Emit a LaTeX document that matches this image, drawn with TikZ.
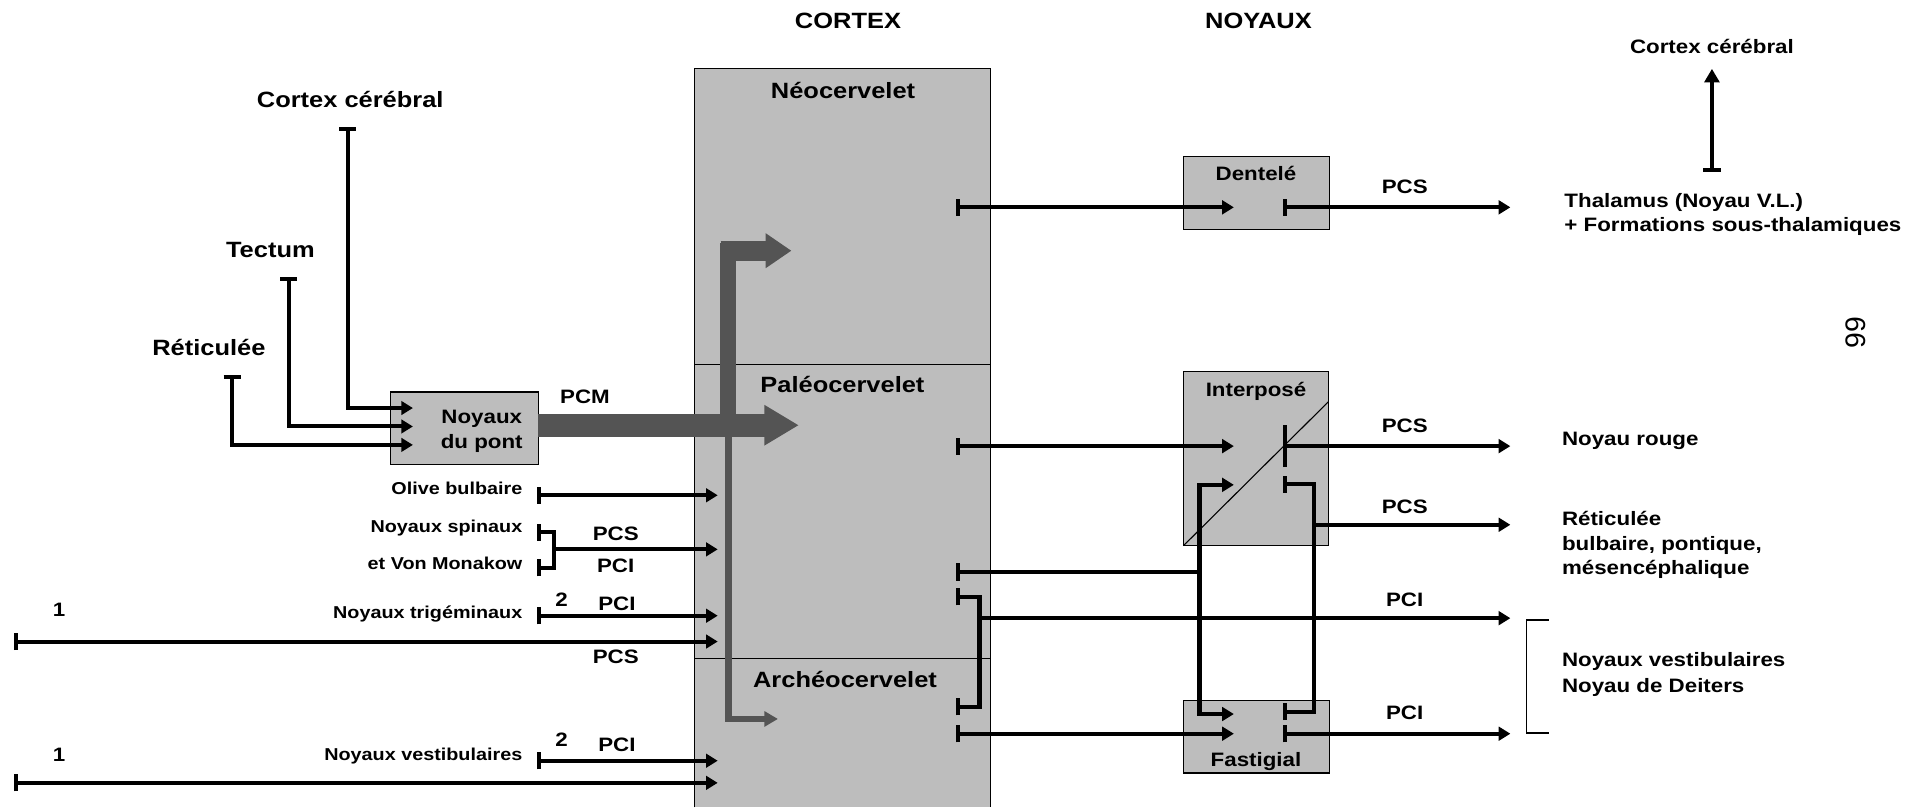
\documentclass[tikz,border=0pt]{standalone}
\usepackage{fontspec}
\setmainfont{Liberation Sans}[FakeStretch=1.15]
\newfontfamily\plainfam{Liberation Sans}
\usetikzlibrary{arrows.meta}
\definecolor{boxgray}{gray}{0.74}
\definecolor{pcmgray}{gray}{0.33}
\newcommand{\fbig}{\bfseries\fontsize{18}{21}\selectfont}
\newcommand{\fmed}{\bfseries\fontsize{15.8}{19}\selectfont}
\newcommand{\fsml}{\bfseries\fontsize{14}{17}\selectfont}
\tikzset{
  lbl/.style={inner sep=0pt, outer sep=0pt},
  wire/.style={line width=3.3pt, -{Triangle[length=9.5pt,width=11pt]}},
  teewire/.style={line width=3.3pt, {Bar[width=14pt]}-{Triangle[length=9.5pt,width=11pt]}},
  teetee/.style={line width=3.3pt, {Bar[width=14pt]}-{Bar[width=14pt]}},
  plainwire/.style={line width=3.3pt},
  nbox/.style={draw, line width=0.9pt, fill=boxgray, inner sep=0pt, outer sep=0pt, anchor=north west},
  thin/.style={line width=1.3pt},
}
\begin{document}
\begin{tikzpicture}[x=1pt,y=-1pt]
\useasboundingbox (0,0) rectangle (1568,657);

% ---- cortex column ----
\fill[boxgray] (565,56) rectangle (806,657);
\draw[line width=0.9pt] (565,657) -- (565,56) -- (806,56) -- (806,657);
\draw[line width=0.9pt] (565,296.5) -- (806,296.5);
\draw[line width=0.9pt] (565,535.6) -- (806,535.6);

% ---- boxes ----
\node[nbox, minimum width=120pt, minimum height=59pt] (pont) at (318,319) {};
\node[nbox, minimum width=119pt, minimum height=59.6pt] (dentele) at (963,127) {};
\node[nbox, minimum width=118pt, minimum height=141.6pt] (interpose) at (963,302.4) {};
\node[nbox, minimum width=119pt, minimum height=59pt] (fastigial) at (963,570) {};
\coordinate (diagEnd) at (1081,326.8);
\draw[line width=0.9pt] (interpose.south west) -- (diagEnd);

% ---- headers & labels ----
\node[lbl, font=\fbig, anchor=base] (hcortex) at (690,23.4) {CORTEX};
\node[lbl, font=\fbig, anchor=base] (hnoyaux) at (1024,23.4) {NOYAUX};
\node[lbl, font=\fbig, anchor=base] (lneo) at (686,80.2) {Néocervelet};
\node[lbl, font=\fbig, anchor=base] (lpaleo) at (685.5,319.4) {Paléocervelet};
\node[lbl, font=\fbig, anchor=base] (larch) at (687.6,559.4) {Archéocervelet};

\node[lbl, font=\fbig, anchor=base] (lcc) at (285,87.4) {Cortex cérébral};
\node[lbl, font=\fbig, anchor=base] (ltec) at (220,209.4) {Tectum};
\node[lbl, font=\fbig, anchor=base] (lret) at (170,289.4) {Réticulée};

\node[lbl, font=\fmed, anchor=base] (lpont1) at (392,344.7) {Noyaux};
\node[lbl, font=\fmed, anchor=base] (lpont2) at (392,365.3) {du pont};
\node[lbl, font=\fmed, anchor=base] (lpcm) at (476,328.7) {PCM};

\node[lbl, font=\fsml, anchor=base east] (lolive) at (425,402) {Olive bulbaire};
\node[lbl, font=\fsml, anchor=base east] (lspin) at (425,433.5) {Noyaux spinaux};
\node[lbl, font=\fsml, anchor=base east] (lvm) at (425,463) {et Von Monakow};
\node[lbl, font=\fsml, anchor=base east] (ltrig) at (425,503) {Noyaux trigéminaux};
\node[lbl, font=\fsml, anchor=base east] (lvest) at (425,619) {Noyaux vestibulaires};

\node[lbl, font=\fmed, anchor=base] (one1) at (48,501.7) {1};
\node[lbl, font=\fmed, anchor=base] (one2) at (48,619.7) {1};
\node[lbl, font=\fmed, anchor=base] (two1) at (457,493.7) {2};
\node[lbl, font=\fmed, anchor=base] (two2) at (457,607.7) {2};
\node[lbl, font=\fmed, anchor=base] (lpcsA) at (501,440.2) {PCS};
\node[lbl, font=\fmed, anchor=base] (lpciA) at (501,466.2) {PCI};
\node[lbl, font=\fmed, anchor=base] (lpciB) at (502,496.7) {PCI};
\node[lbl, font=\fmed, anchor=base] (lpcsB) at (501,540.2) {PCS};
\node[lbl, font=\fmed, anchor=base] (lpciC) at (502,611.7) {PCI};

\node[lbl, font=\fmed, anchor=base] (ldent) at (1022,146.7) {Dentelé};
\node[lbl, font=\fmed, anchor=base] (linter) at (1022,322.4) {Interposé};
\node[lbl, font=\fmed, anchor=base] (lfast) at (1022,623.7) {Fastigial};

\node[lbl, font=\fmed, anchor=base] (rpcs1) at (1143,157.7) {PCS};
\node[lbl, font=\fmed, anchor=base] (rpcs2) at (1143,351.7) {PCS};
\node[lbl, font=\fmed, anchor=base] (rpcs3) at (1143,417.7) {PCS};
\node[lbl, font=\fmed, anchor=base] (rpci1) at (1143,493.7) {PCI};
\node[lbl, font=\fmed, anchor=base] (rpci2) at (1143,585.7) {PCI};

\node[lbl, font=\fmed, anchor=base] (rcc) at (1393,43.7) {Cortex cérébral};
\node[lbl, font=\fmed, anchor=base west] (rthal1) at (1273,168.7) {Thalamus (Noyau V.L.)};
\node[lbl, font=\fmed, anchor=base west] (rthal2) at (1273,188.7) {+ Formations sous-thalamiques};
\node[lbl, font=\fmed, anchor=base west] (rrouge) at (1271,362.7) {Noyau rouge};
\node[lbl, font=\fmed, anchor=base west] (rret1) at (1271,427.3) {Réticulée};
\node[lbl, font=\fmed, anchor=base west] (rret2) at (1271,447.7) {bulbaire, pontique,};
\node[lbl, font=\fmed, anchor=base west] (rret3) at (1271,467.7) {mésencéphalique};
\node[lbl, font=\fmed, anchor=base west] (rvest1) at (1271,542.7) {Noyaux vestibulaires};
\node[lbl, font=\fmed, anchor=base west] (rvest2) at (1271,563.2) {Noyau de Deiters};

\node[lbl, rotate=90, font=\plainfam\fontsize{23}{26}\selectfont] (pagenum) at (1510,270.5) {99};

% ---- gray mossy-fibre arrows ----
\coordinate (pcmTip) at (650,346);
\coordinate (branch) at (592.5,346);
\coordinate (upCorner) at (592.5,198);
\coordinate (upStart) at (586.3,204);
\coordinate (upTip) at (644,204);
\coordinate (lowTip) at (633,585);
\draw[pcmgray, line width=12.5pt] (branch) -- (upCorner);
\draw[pcmgray, line width=16pt, -{Triangle[length=21pt,width=27pt]}] (upStart) -- (upTip);
\draw[pcmgray, line width=5.5pt, -{Triangle[length=11pt,width=12pt]}] (branch) |- (lowTip);
\draw[pcmgray, line width=19pt, -{Triangle[length=28pt,width=31pt]}] (pont.east |- pcmTip) -- (pcmTip);

% ---- inputs to the pontine nuclei ----
\coordinate (tcc) at (283,103);
\coordinate (ttec) at (235,225);
\coordinate (tret) at (189,305);
\coordinate (acc) at (336,332);
\coordinate (atec) at (336,347);
\coordinate (aret) at (336,362);
\draw[teewire] (tcc) |- (acc);
\draw[teewire] (ttec) |- (atec);
\draw[teewire] (tret) |- (aret);

% ---- inputs to the cortex ----
\coordinate (olive) at (437,403);   \coordinate (oliveTip) at (584,403);
\draw[teewire] (olive) -- (oliveTip);
\coordinate (spA) at (437,433); \coordinate (spB) at (437,462);
\coordinate (spJ) at (451,447); \coordinate (spTip) at (584,447);
\draw[teetee] (spA) -| (spJ) |- (spB);
\draw[wire] (spJ) -- (spTip);
\coordinate (trig) at (437,501);  \coordinate (trigTip) at (584,501);
\draw[teewire] (trig) -- (trigTip);
\coordinate (longA) at (11,522);  \coordinate (longATip) at (584,522);
\draw[teewire] (longA) -- (longATip);
\coordinate (vest) at (437,619);  \coordinate (vestTip) at (584,619);
\draw[teewire] (vest) -- (vestTip);
\coordinate (longB) at (11,637);  \coordinate (longBTip) at (584,637);
\draw[teewire] (longB) -- (longBTip);

% ---- cortex to nuclei ----
\coordinate (neoT) at (778,168.7);   \coordinate (dentIn) at (1004,168.7);
\draw[teewire] (neoT) -- (dentIn);
\coordinate (dentT) at (1044,168.7); \coordinate (thalTip) at (1229,168.7);
\draw[teewire] (dentT) -- (thalTip);

\coordinate (paleoT1) at (778,363);  \coordinate (interIn1) at (1004,363);
\draw[teewire] (paleoT1) -- (interIn1);
\coordinate (interT1) at (1044,363); \coordinate (rougeTip) at (1229,363);
\draw[line width=3.3pt, {Bar[width=34pt]}-{Triangle[length=9.5pt,width=11pt]}] (interT1) -- (rougeTip);

\coordinate (paleoT2) at (778,465.5); \coordinate (busL) at (976,465.5);
\coordinate (interIn2) at (1004,394.5); \coordinate (fastIn1) at (1004,581);
\draw[line width=3.3pt, {Bar[width=14pt]}-] (paleoT2) -- (busL);
\draw[wire] (busL) |- (interIn2);
\draw[wire] (busL) |- (fastIn1);

\coordinate (paleoT3) at (778,485.6); \coordinate (archT1) at (778,575);
\coordinate (brJ) at (797,503); \coordinate (pciTip1) at (1229,503);
\draw[teetee] (paleoT3) -| (brJ) |- (archT1);
\draw[wire] (brJ) -- (pciTip1);

\coordinate (archT2) at (778,597); \coordinate (fastIn2) at (1004,597);
\draw[teewire] (archT2) -- (fastIn2);

\coordinate (interT2) at (1044,394); \coordinate (fastT1) at (1044,579);
\coordinate (busR) at (1069,427); \coordinate (retTip) at (1229,427);
\draw[teetee] (interT2) -| (busR) |- (fastT1);
\draw[wire] (busR) -- (retTip);

\coordinate (fastT2) at (1044,597); \coordinate (pciTip2) at (1229,597);
\draw[teewire] (fastT2) -- (pciTip2);

% ---- thalamus to cerebral cortex ----
\coordinate (thalT) at (1393,140); \coordinate (ccTip) at (1393,56);
\draw[line width=3.3pt, {Bar[width=14pt]}-{Triangle[length=11pt,width=12pt]}] (thalT) -- (ccTip);

% ---- bracket ----
\draw[thin] (1260,504.6) -- (1242,504.6) -- (1242,596.6) -- (1260,596.6);
\end{tikzpicture}
\end{document}
